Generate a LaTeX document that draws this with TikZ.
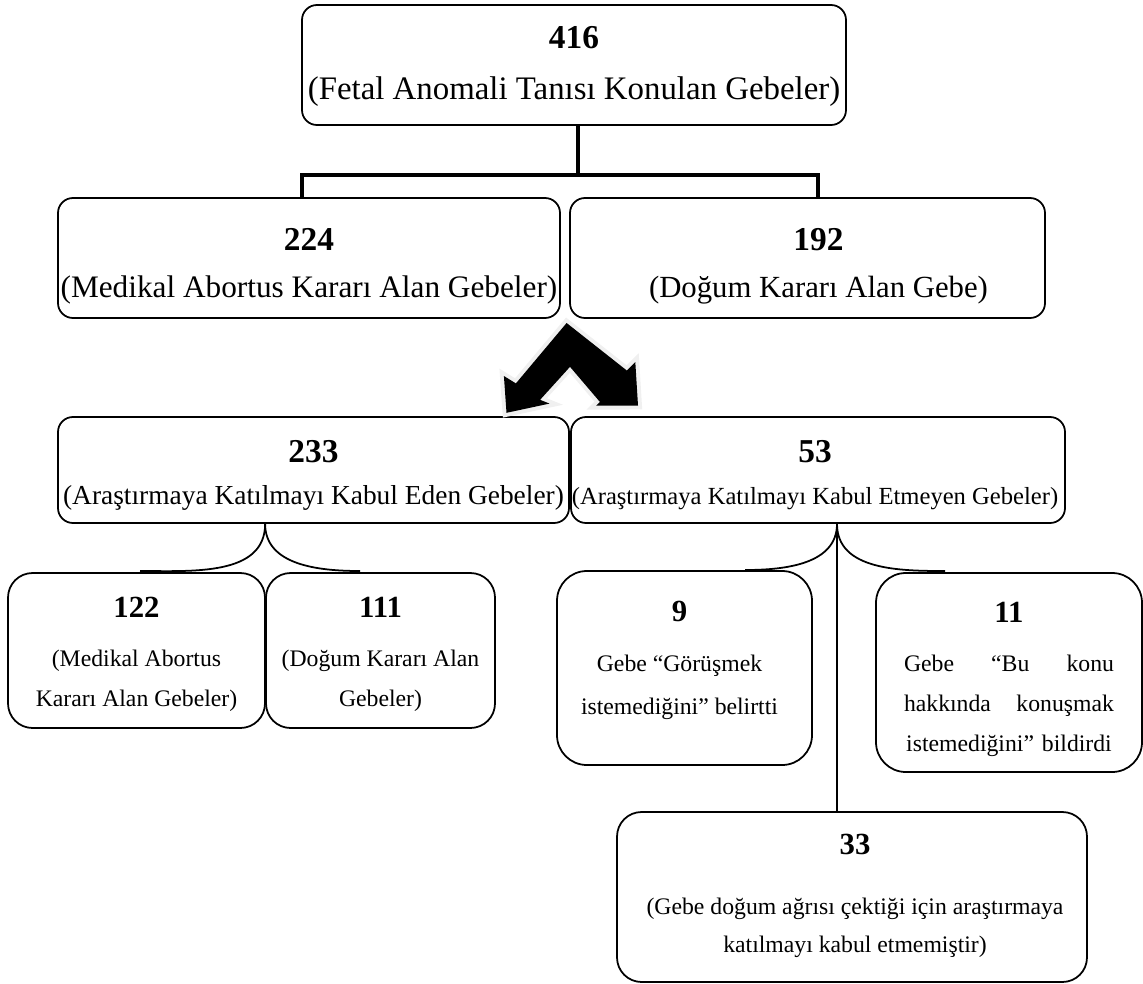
\documentclass[tikz,border=0pt]{standalone}
\usepackage{fontspec}
\setmainfont{Liberation Serif}
\usetikzlibrary{positioning}

\newcommand{\sayi}[1]{{\fontsize{19}{19}\selectfont\bfseries #1}}
\newcommand{\kucuksayi}[1]{{\fontsize{17.5}{17.5}\selectfont\bfseries #1}}

\tikzset{
  kutu/.style={draw, line width=1pt, rounded corners=8.5pt, inner sep=0pt},
  kucukkutu/.style={kutu, rounded corners=14pt},
  yazi/.style={align=center, inner sep=0pt},
  kucukyazi/.style={yazi, font=\fontsize{13.5}{22.8}\selectfont},
  kalin/.style={line width=2.8pt},
  ince/.style={line width=1pt},
}

\begin{document}
\begin{tikzpicture}[x=0.02cm, y=-0.02cm] % 1 birim = 1 piksel
  \useasboundingbox (0,0) rectangle (1143,984);
  % ust kutular
  \node[kutu, minimum width=544*0.02cm, minimum height=120*0.02cm] (n416) at (574,65) {};
  \node[kutu, minimum width=502*0.02cm, minimum height=120*0.02cm] (n224) at (309,258) {};
  \node[kutu, minimum width=475*0.02cm, minimum height=120*0.02cm] (n192) at (807.5,258) {};
  \node[yazi, font=\fontsize{18.7}{29}\selectfont, below=0.44cm of n416.north] (t416)
    {\sayi{416}\\(Fetal Anomali Tanısı Konulan Gebeler)};
  \node[yazi, font=\fontsize{17.8}{26.7}\selectfont, below=0.62cm of n224.north] (t224)
    {\sayi{224}\\(Medikal Abortus Kararı Alan Gebeler)};
  \node[yazi, font=\fontsize{17.5}{26.7}\selectfont, below=0.62cm of n192.north, xshift=0.22cm] (t192)
    {\sayi{192}\\(Doğum Kararı Alan Gebe)};
  % katilim
  \node[kutu, minimum width=511*0.02cm, minimum height=106*0.02cm] (n233) at (313.5,470) {};
  \node[kutu, minimum width=494*0.02cm, minimum height=106*0.02cm] (n53) at (818,470) {};
  \node[yazi, font=\fontsize{15.6}{24}\selectfont, below=0.48cm of n233.north] (t233)
    {\sayi{233}\\(Araştırmaya Katılmayı Kabul Eden Gebeler)};
  \node[yazi, font=\fontsize{14}{24}\selectfont, below=0.48cm of n53.north, xshift=-0.06cm] (t53)
    {\sayi{53}\\(Araştırmaya Katılmayı Kabul Etmeyen Gebeler)};
  % alt kutular
  \node[kucukkutu, minimum width=257*0.02cm, minimum height=155*0.02cm] (n122) at (136.5,650.5) {};
  \node[kucukkutu, minimum width=229*0.02cm, minimum height=155*0.02cm] (n111) at (380.5,650.5) {};
  \node[kucukkutu, rounded corners=17pt, minimum width=255*0.02cm, minimum height=194*0.02cm] (n9) at (684.5,668) {};
  \node[kucukkutu, rounded corners=17pt, minimum width=266*0.02cm, minimum height=199*0.02cm] (n11) at (1009,672.5) {};
  \node[kucukkutu, minimum width=470*0.02cm, minimum height=170*0.02cm] (n33) at (852,897) {};
  \node[kucukyazi, below=0.5cm of n122.north] (t122)
    {\kucuksayi{122}\\[5pt](Medikal Abortus\\Kararı Alan Gebeler)};
  \node[kucukyazi, below=0.5cm of n111.north] (t111)
    {\kucuksayi{111}\\[5pt](Doğum Kararı Alan\\Gebeler)};
  \node[kucukyazi, below=0.62cm of n9.north, xshift=-0.1cm] (t9)
    {\kucuksayi{9}\\[5.5pt]Gebe “Görüşmek\\[1.5pt]istemediğini” belirtti};
  \node[kucukyazi, text width=4.2cm, below=0.6cm of n11.north] (t11)
    {\kucuksayi{11}\\[5pt]Gebe\hfill“Bu\hfill konu\\hakkında\hfill konuşmak\\istemediğini” bildirdi};
  \node[kucukyazi, font=\fontsize{13.5}{21.2}\selectfont, below=0.46cm of n33.north, xshift=0.06cm] (t33)
    {\kucuksayi{33}\\[13pt](Gebe doğum ağrısı çektiği için araştırmaya\\katılmayı kabul etmemiştir)};
  % kalin baglanti
  \coordinate (catal) at (578,175);
  \coordinate (sol) at (302,175);
  \coordinate (sag) at (818,175);
  \draw[kalin] (catal |- n416.south) -- (catal);
  \draw[kalin] (sol |- n224.north) -- (sol) -- (sag) -- (sag |- n192.north);
  % cift ok
  \begin{scope}[yshift=-2*0.02cm]
  \filldraw[fill=black, draw=gray!12, line width=4.5pt, line join=miter]
    (566.6,321) -- (515.9,381.4) -- (503.9,374) -- (506.5,410.8) -- (549.5,401.6)
    -- (540.1,397.8) -- (570,364.8) -- (599.9,399.9) -- (596.1,403.7)
    -- (638,403.5) -- (635.3,360.1) -- (626.8,368.5) -- cycle;
  \fill[black]
    (566.6,321) -- (515.9,381.4) -- (503.9,374) -- (506.5,410.8) -- (549.5,401.6)
    -- (540.1,397.8) -- (570,364.8) -- (599.9,399.9) -- (596.1,403.7)
    -- (638,403.5) -- (635.3,360.1) -- (626.8,368.5) -- cycle;
  \end{scope}
  % egri baglantilar
  \coordinate (sol1) at (140,571);
  \coordinate (sag1) at (360,571);
  \coordinate (sol2) at (745,570);
  \coordinate (sag2) at (945,571);
  \coordinate (dik) at (837,0);
  \draw[ince] (n233.south -| n111.west) to[out=-90, in=0] (sol1);
  \draw[ince] (n233.south -| n111.west) to[out=-90, in=180] (sag1);
  \draw[ince] (dik |- n53.south) to[out=-90, in=0] (sol2);
  \draw[ince] (dik |- n53.south) to[out=-90, in=180] (sag2);
  \draw[ince] (dik |- n53.south) -- (dik |- n33.north);
\end{tikzpicture}
\end{document}
